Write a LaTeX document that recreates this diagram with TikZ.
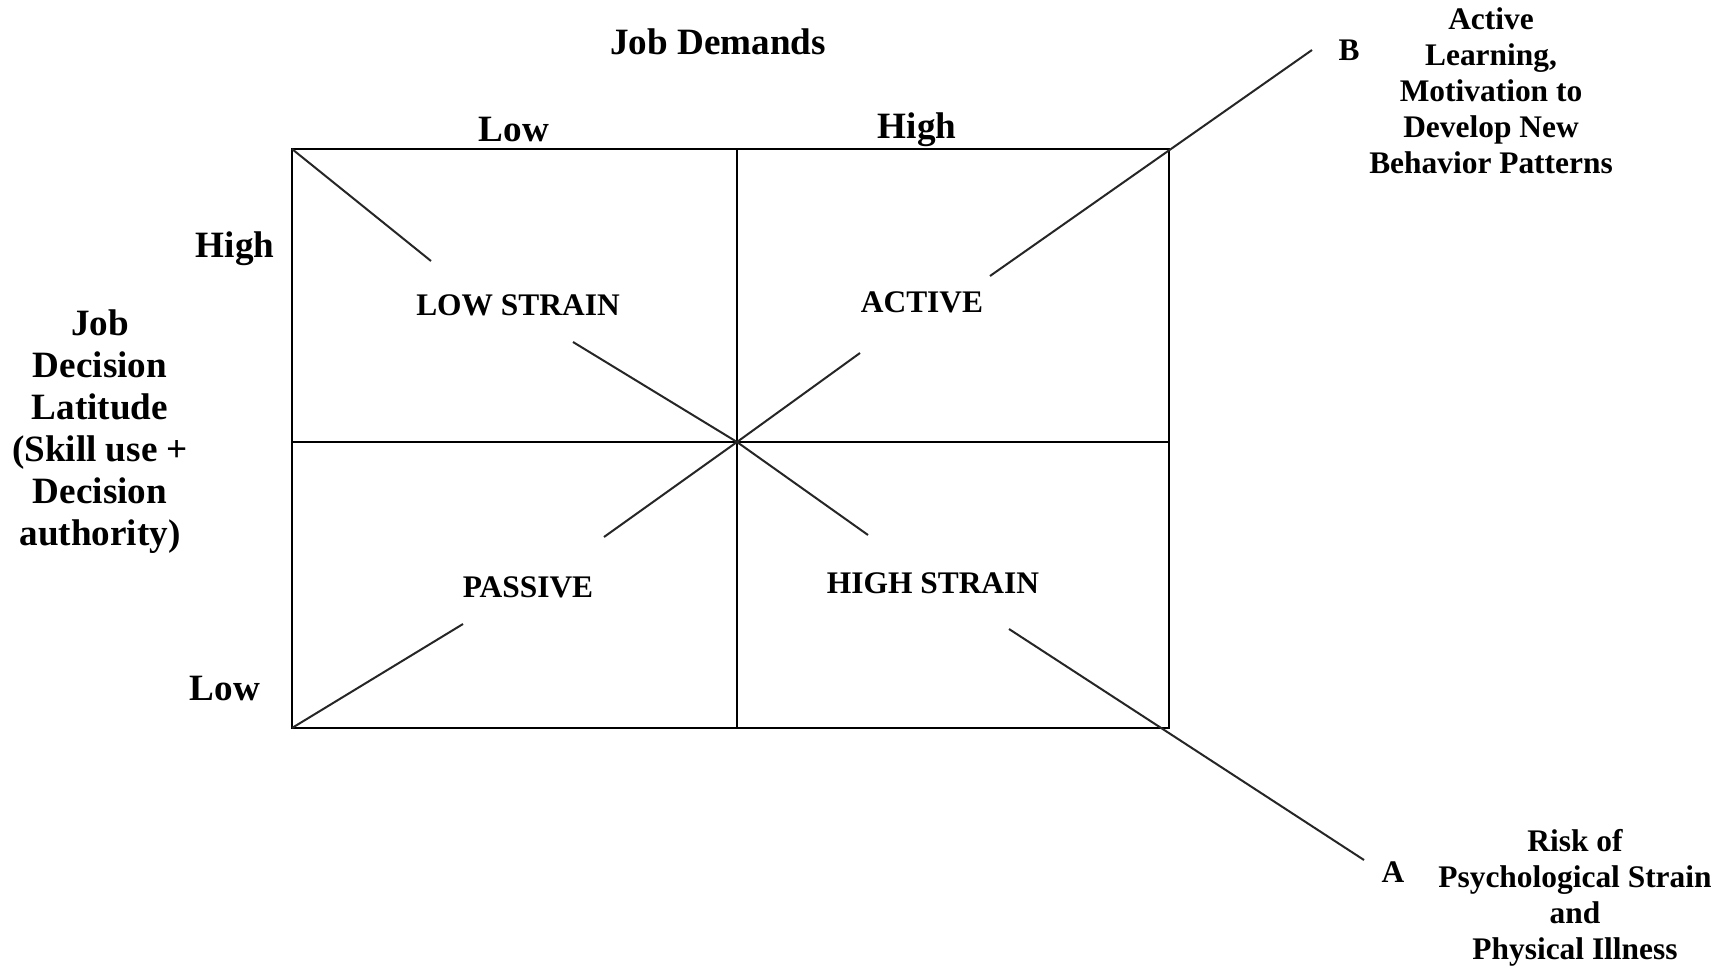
\documentclass[tikz,border=0pt]{standalone}
\usepackage{fontspec}
\setmainfont{Liberation Serif}
\usetikzlibrary{positioning}

\begin{document}
\begin{tikzpicture}[
  x=0.35pt, y=-0.35pt,
  font=\bfseries\fontsize{13}{14.7}\selectfont,
  axislabel/.style={align=center, inner sep=1pt},
  quadlabel/.style={font=\bfseries\fontsize{11}{12.6}\selectfont, inner sep=1pt},
  outcome/.style={align=center, font=\bfseries\fontsize{11}{12.6}\selectfont, inner sep=1pt},
  frame/.style={draw=black, line width=0.7pt},
  diag/.style={draw=black!85, line width=0.7pt}
]
\useasboundingbox (0,0) rectangle (1729,967);

% quadrant frame
\coordinate (nw) at (292,149);
\coordinate (ne) at (1169,149);
\coordinate (sw) at (292,728);
\coordinate (se) at (1169,728);
\coordinate (nmid) at (737,149);
\coordinate (smid) at (737,728);
\coordinate (wmid) at (292,442);
\coordinate (emid) at (1169,442);
\coordinate (centre) at (737,442);

\draw[frame] (nw) rectangle (se);
\draw[frame] (nmid) -- (smid);
\draw[frame] (wmid) -- (emid);

% axis labels
\node[axislabel] (demands) at (718,42) {Job Demands};
\node[axislabel] (dlow) at (514,130) {Low};
\node[axislabel] (dhigh) at (917,130) {High};
\node[axislabel] (lhigh) at (235,249) {High};
\node[axislabel] (llow) at (225,689) {Low};
\node[axislabel] (latitude) at (100,432) {Job\\Decision\\Latitude\\(Skill use +\\Decision\\authority)};

% quadrants
\node[quadlabel] (lowstrain) at (518,305) {LOW STRAIN};
\node[quadlabel] (active) at (922,302) {ACTIVE};
\node[quadlabel] (passive) at (528,587) {PASSIVE};
\node[quadlabel] (highstrain) at (933,583) {HIGH STRAIN};

% outcomes
\node[outcome] (diagB) at (1349,50) {B};
\node[outcome] (learning) at (1491,91) {Active\\Learning,\\Motivation to\\Develop New\\Behavior Patterns};
\node[outcome] (diagA) at (1393,872) {A};
\node[outcome] (risk) at (1575,898) {Risk of\\Psychological Strain\\and\\Physical Illness};

% diagonals
\coordinate (tl1) at (431,261);
\coordinate (tl2) at (573,342);
\coordinate (br1) at (868,535);
\coordinate (br2) at (1009,629);
\coordinate (br3) at (1364,860);
\coordinate (bl1) at (463,624);
\coordinate (bl2) at (604,537);
\coordinate (tr1) at (860,353);
\coordinate (tr2) at (990,276);
\coordinate (tr3) at (1312,50);

\draw[diag] (nw) -- (tl1);
\draw[diag] (tl2) -- (centre) -- (br1);
\draw[diag] (br2) -- (br3);
\draw[diag] (sw) -- (bl1);
\draw[diag] (bl2) -- (centre) -- (tr1);
\draw[diag] (tr2) -- (tr3);

\end{tikzpicture}
\end{document}
